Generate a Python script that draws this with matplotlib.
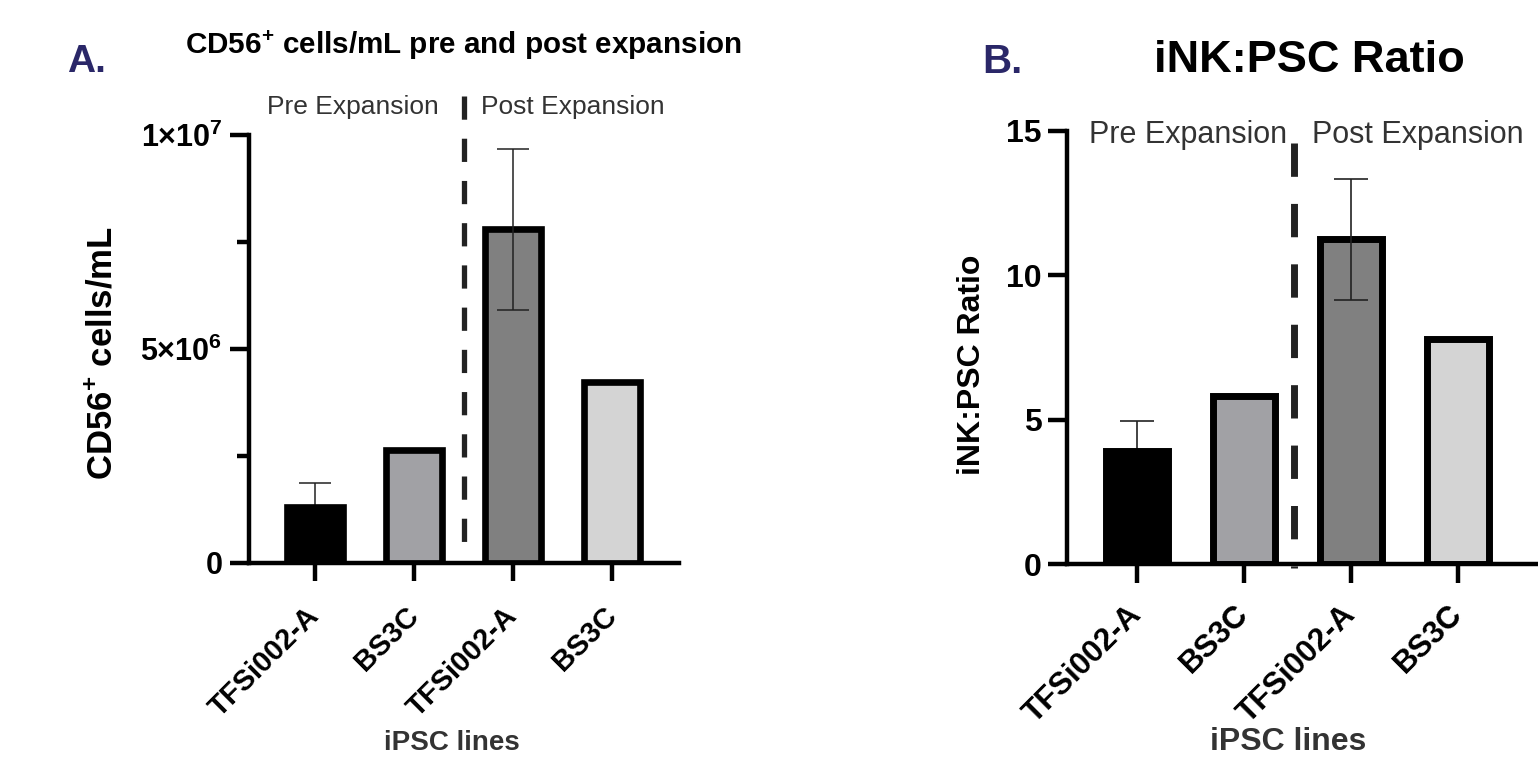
import matplotlib
matplotlib.use('Agg')
import matplotlib.pyplot as plt

plt.rcParams['font.family'] = ['Liberation Sans', 'DejaVu Sans']
plt.rcParams['mathtext.fontset'] = 'custom'
plt.rcParams['mathtext.rm'] = 'Liberation Sans'
plt.rcParams['mathtext.bf'] = 'Liberation Sans:bold'
plt.rcParams['mathtext.it'] = 'Liberation Sans:italic'

# data
lines = ['TFSi002-A', 'BS3C', 'TFSi002-A', 'BS3C']
bar_colors = ['#000000', '#a1a1a5', '#808080', '#d4d4d4']

cd56_mean = [1.32e6, 2.64e6, 7.8e6, 4.23e6]
cd56_err = [0.55e6, 0, 1.88e6, 0]
cd56_ticks = [0, 5e6, 1e7]
cd56_ticklabels = ['0', '5\u00d710$^\\mathbf{6}$', '1\u00d710$^\\mathbf{7}$']

ratio_mean = [3.92, 5.83, 11.25, 7.8]
ratio_err = [1.03, 0, 2.1, 0]
ratio_ticks = [0, 5, 10, 15]

navy = '#2a2768'
dark = '#222222'

fig = plt.figure(figsize=(15.38, 7.57), dpi=100)
W, H = 1538, 757

def px_axes(left, right, top, bottom):
    return fig.add_axes([left / W, (H - bottom) / H, (right - left) / W, (bottom - top) / H])

def style(ax, lw=3.2):
    for s in ['top', 'right']:
        ax.spines[s].set_visible(False)
    for s in ['left', 'bottom']:
        ax.spines[s].set_linewidth(lw)
        ax.spines[s].set_capstyle('projecting')

def errbars(ax, mean, err, cap, lw):
    for i in range(len(mean)):
        if err[i] == 0:
            continue
        # whisker inside a black bar is hidden behind it
        z = 1.5 if bar_colors[i] == '#000000' else 3
        ax.errorbar([i], [mean[i]], yerr=[err[i]], fmt='none', ecolor=dark,
                    elinewidth=lw, capsize=cap, capthick=lw, zorder=z)

x = list(range(len(lines)))

# ---------- A ----------
axA = px_axes(249, 679, 135, 563)
axA.bar(x, cd56_mean, 0.57, color=bar_colors, edgecolor='black', linewidth=4.8, zorder=2)
errbars(axA, cd56_mean, cd56_err, 11.5, 1.1)
axA.set_xlim(-0.667, 3.677)
axA.set_ylim(0, 1e7)
style(axA)
axA.set_yticks(cd56_ticks)
axA.set_yticklabels(cd56_ticklabels, fontsize=22, fontweight='bold')
axA.set_yticks([2.5e6, 7.5e6], minor=True)
axA.tick_params(axis='y', which='major', length=14, width=3.2, pad=5)
axA.tick_params(axis='y', which='minor', length=8.5, width=3.2)
axA.set_xticks(x)
axA.set_xticklabels(lines, rotation=45, ha='right', va='center', rotation_mode='anchor',
                    fontsize=21, fontweight='bold')
axA.tick_params(axis='x', length=13, width=3.2, pad=22)
axA.plot([1.5, 1.5], [1.09e7, 0.047e7], color=dark, lw=3.8,
         linestyle=(0, (4.4, 3.6)), clip_on=False, zorder=1)
axA.text(0.38, 1.065e7, 'Pre Expansion', fontsize=19, color='#333333',
         ha='center', va='center')
axA.text(2.6, 1.065e7, 'Post Expansion', fontsize=19, color='#333333',
         ha='center', va='center')
axA.set_ylabel('CD56$^\\mathbf{+}$ cells/mL', fontsize=25, fontweight='bold')
axA.yaxis.set_label_coords(-130 / 430, 0.49)

fig.text(86 / W, 1 - 62 / H, 'A.', fontsize=28, fontweight='bold', color=navy,
         ha='center', va='center')
fig.text(463 / W, 1 - 45 / H, 'CD56$^\\mathbf{+}$ cells/mL pre and post expansion',
         fontsize=21.3, fontweight='bold', ha='center', va='center')
fig.text(452 / W, 1 - 756 / H, 'iPSC lines', fontsize=20, fontweight='bold',
         color='#333333', ha='center', va='bottom')

# ---------- B ----------
axB = px_axes(1067, 1567, 131, 564)
axB.bar(x, ratio_mean, 0.58, color=bar_colors, edgecolor='black', linewidth=5, zorder=2)
errbars(axB, ratio_mean, ratio_err, 12.5, 1.2)
axB.set_xlim(-0.654, 4.019)
axB.set_ylim(0, 15)
style(axB)
axB.set_yticks(ratio_ticks)
axB.set_yticklabels([str(t) for t in ratio_ticks], fontsize=23, fontweight='bold')
axB.tick_params(axis='y', length=14, width=3.2, pad=4)
axB.set_xticks(x)
axB.set_xticklabels(lines, rotation=45, ha='right', va='center', rotation_mode='anchor',
                    fontsize=22.5, fontweight='bold')
axB.tick_params(axis='x', length=14, width=3.2, pad=19)
axB.plot([1.47, 1.47], [14.6, -0.14], color=dark, lw=5,
         linestyle=(0, (4.8, 3.9)), clip_on=False, zorder=1)
axB.text(0.48, 14.86, 'Pre Expansion', fontsize=22, color='#333333',
         ha='center', va='center')
axB.text(1.64, 14.86, 'Post Expansion', fontsize=22, color='#333333',
         ha='left', va='center')
axB.set_ylabel('iNK:PSC Ratio', fontsize=23, fontweight='bold')
axB.yaxis.set_label_coords(-80 / 500, 0.46)

fig.text(1002 / W, 1 - 62 / H, 'B.', fontsize=29, fontweight='bold', color=navy,
         ha='center', va='center')
fig.text(1309 / W, 1 - 60 / H, 'iNK:PSC Ratio', fontsize=32.5, fontweight='bold',
         ha='center', va='center')
fig.text(1288 / W, 1 - 757 / H, 'iPSC lines', fontsize=23, fontweight='bold',
         color='#333333', ha='center', va='bottom')

fig.savefig('out.png', dpi=100)
